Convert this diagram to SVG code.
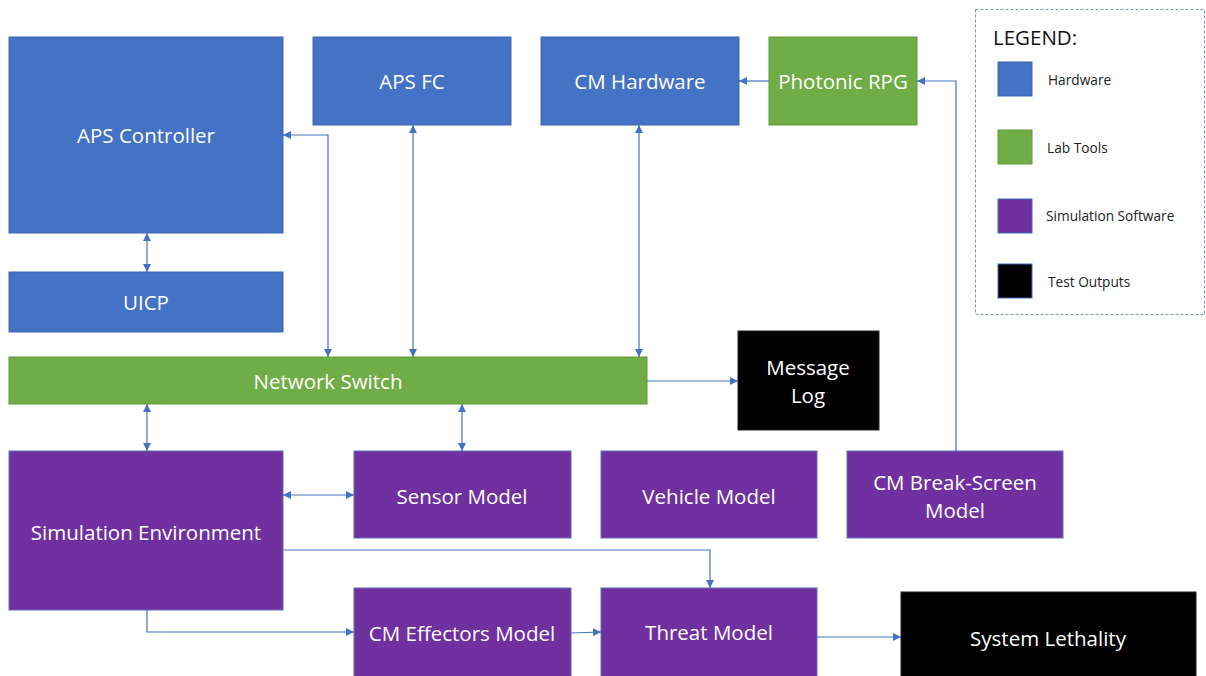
<svg xmlns="http://www.w3.org/2000/svg" width="1206" height="676" viewBox="0 0 1206 676">
<defs>
<style>
.hw{fill:#4472C4;stroke:#3E68B4;stroke-width:1}
.lab{fill:#70AD47;stroke:#5E9A3A;stroke-width:1}
.sim{fill:#7030A0;stroke:#5F6FB8;stroke-width:1}
.out{fill:#000000;stroke:#222;stroke-width:1}
.t{font-family:"Open Sans","Noto Sans",sans-serif;font-size:20.5px;fill:#FFFFFF;text-anchor:middle;dominant-baseline:central}
.lt{font-family:"Open Sans","Noto Sans",sans-serif;font-size:13.7px;fill:#222;dominant-baseline:central}
.c{fill:none;stroke:#4472C4;stroke-width:1.2}
</style>
<marker id="ah" viewBox="0 0 10 10" refX="10" refY="5" markerWidth="8" markerHeight="8" markerUnits="userSpaceOnUse" orient="auto-start-reverse">
<path d="M0,0 L10,5 L0,10 z" fill="#4472C4"/>
</marker>
</defs>
<rect width="1206" height="676" fill="#FFFFFF"/>

<g id="connectors">
<path class="c" d="M283,135 H328 V357" marker-start="url(#ah)" marker-end="url(#ah)"/>
<path class="c" d="M413,125 V357" marker-start="url(#ah)" marker-end="url(#ah)"/>
<path class="c" d="M639,125 V357" marker-start="url(#ah)" marker-end="url(#ah)"/>
<path class="c" d="M769,81 H739" marker-end="url(#ah)"/>
<path class="c" d="M956,451 V81 H917" marker-end="url(#ah)"/>
<path class="c" d="M147,233 V272" marker-start="url(#ah)" marker-end="url(#ah)"/>
<path class="c" d="M647,381 H738" marker-end="url(#ah)"/>
<path class="c" d="M147,404 V451" marker-start="url(#ah)" marker-end="url(#ah)"/>
<path class="c" d="M462,404 V451" marker-start="url(#ah)" marker-end="url(#ah)"/>
<path class="c" d="M283,495 H354" marker-start="url(#ah)" marker-end="url(#ah)"/>
<path class="c" d="M283,550 H710 V588" marker-end="url(#ah)"/>
<path class="c" d="M147,610 V632 H354" marker-end="url(#ah)"/>
<path class="c" d="M571,633 L601,632" marker-end="url(#ah)"/>
<path class="c" d="M817,637 H901" marker-end="url(#ah)"/>
</g>

<g id="aps-controller"><rect class="hw" x="9" y="37" width="274" height="196"/><text class="t" x="146" y="135">APS Controller</text></g>
<g id="aps-fc"><rect class="hw" x="313" y="37" width="198" height="88"/><text class="t" x="412" y="81">APS FC</text></g>
<g id="cm-hardware"><rect class="hw" x="541" y="37" width="198" height="88"/><text class="t" x="640" y="81">CM Hardware</text></g>
<g id="photonic-rpg"><rect class="lab" x="769" y="37" width="148" height="88"/><text class="t" x="843" y="81">Photonic RPG</text></g>
<g id="uicp"><rect class="hw" x="9" y="272" width="274" height="60"/><text class="t" x="146" y="302">UICP</text></g>
<g id="network-switch"><rect class="lab" x="9" y="357" width="638" height="47"/><text class="t" x="328" y="381">Network Switch</text></g>
<g id="message-log"><rect class="out" x="738" y="331" width="141" height="99"/><text class="t" x="808" y="367">Message</text><text class="t" x="808" y="395">Log</text></g>
<g id="simulation-environment"><rect class="sim" x="9" y="451" width="274" height="159"/><text class="t" x="146" y="532">Simulation Environment</text></g>
<g id="sensor-model"><rect class="sim" x="354" y="451" width="217" height="87"/><text class="t" x="462" y="496">Sensor Model</text></g>
<g id="vehicle-model"><rect class="sim" x="601" y="451" width="216" height="87"/><text class="t" x="709" y="496">Vehicle Model</text></g>
<g id="cm-break-screen-model"><rect class="sim" x="847" y="451" width="216" height="87"/><text class="t" x="955" y="482">CM Break-Screen</text><text class="t" x="955" y="510">Model</text></g>
<g id="cm-effectors-model"><rect class="sim" x="354" y="588" width="217" height="92"/><text class="t" x="462" y="633">CM Effectors Model</text></g>
<g id="threat-model"><rect class="sim" x="601" y="588" width="216" height="92"/><text class="t" x="709" y="632">Threat Model</text></g>
<g id="system-lethality"><rect class="out" x="901" y="592" width="295" height="88"/><text class="t" x="1048" y="638">System Lethality</text></g>

<g id="legend">
<rect x="975.5" y="9.5" width="229" height="305" fill="#FFFFFF" stroke="#7F95B8" stroke-width="1" stroke-dasharray="3,2"/>
<text x="993" y="37" font-family="'Open Sans','Noto Sans',sans-serif" font-size="20.5" fill="#111" dominant-baseline="central">LEGEND:</text>
<rect class="hw" x="998" y="62" width="34" height="34"/><text class="lt" x="1048" y="79">Hardware</text>
<rect class="lab" x="998" y="130" width="34" height="34"/><text class="lt" x="1047" y="147">Lab Tools</text>
<rect class="sim" x="998" y="199" width="34" height="34" style="stroke:#3E68B4"/><text class="lt" x="1046" y="215">Simulation Software</text>
<rect class="out" x="998" y="264" width="34" height="34" style="stroke:#3E68B4"/><text class="lt" x="1048" y="281">Test Outputs</text>
</g>
</svg>
